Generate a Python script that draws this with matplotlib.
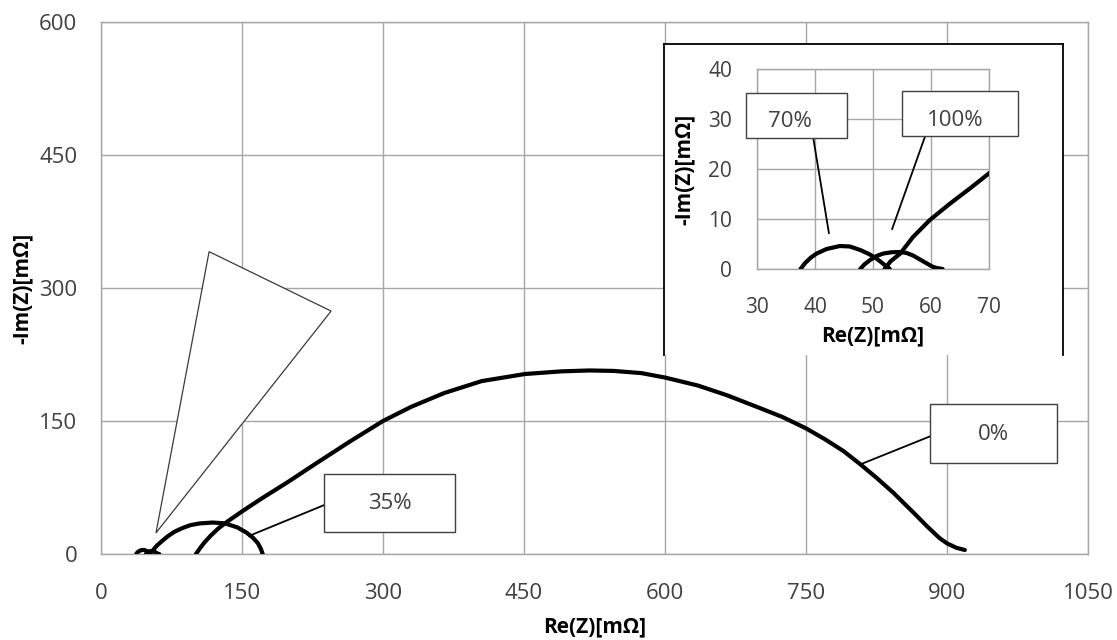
import matplotlib.pyplot as plt
from matplotlib.patches import Rectangle, Polygon

# Nyquist data, Re(Z) / -Im(Z) in mOhm
re_0 = [101, 105, 110, 117, 125, 135, 150, 170, 200, 230, 265, 300, 330, 365, 405, 451,
        490, 520, 545, 575, 600, 635, 666, 700, 725, 750, 770, 790, 808, 825, 843, 865,
        879, 892, 900, 910, 919]
im_0 = [0, 6, 13, 21, 29, 37, 48, 62, 82, 103, 127, 150, 166, 181.5, 195, 203,
        206, 207, 206.5, 204, 199, 190, 179, 165, 154.5, 141.7, 129.5, 116, 101, 86, 69, 46,
        31, 18, 12, 7, 4.5]

re_35 = [52, 53, 54.7, 56.9, 59.8, 63.3, 66.7, 70.3, 78, 86, 95, 105, 119, 132, 145,
         155, 162, 167, 170, 172]
im_35 = [0, 1.5, 3.1, 6.4, 9.8, 13.1, 16.1, 19.4, 25, 29, 32.5, 34.5, 35.5, 34.5, 30,
         24, 18, 12, 6, 0]

re_70 = [37.5, 38.3, 39.3, 40.3, 42, 44.3, 46, 47.8, 49.3, 50.6, 51.8, 52.9]
im_70 = [0, 1.2, 2.3, 3.1, 4, 4.6, 4.5, 3.8, 3, 2.1, 1, 0]

re_100 = [47.8, 48.5, 49.5, 50.6, 51.8, 53.2, 54.7, 55.8, 56.9, 58.1, 59.3, 60.2, 61, 62]
im_100 = [0, 0.9, 1.8, 2.6, 3.1, 3.35, 3.4, 3.2, 2.7, 1.9, 1.1, 0.5, 0.2, 0]

main_xticks = [0, 150, 300, 450, 600, 750, 900, 1050]
main_yticks = [0, 150, 300, 450, 600]
inset_xticks = [30, 40, 50, 60, 70]
inset_yticks = [0, 10, 20, 30, 40]

series = [(re_0, im_0), (re_35, im_35), (re_70, im_70), (re_100, im_100)]

plt.rcParams['font.family'] = ['Open Sans', 'DejaVu Sans']
grid_c = '#a6a6a6'
text_c = '#404040'
W, H = 1117, 640


def style_axes(a, size, xpad, ypad):
	a.grid(True, color=grid_c, lw=1)
	a.set_axisbelow(True)
	for s in a.spines.values():
		s.set_color(grid_c)
		s.set_linewidth(1)
	a.tick_params(length=0, labelsize=size, colors=text_c)
	a.tick_params(axis='x', pad=xpad)
	a.tick_params(axis='y', pad=ypad)


def draw_curves(a):
	for x, y in series:
		a.plot(x, y, color='black', lw=3, solid_capstyle='round',
			solid_joinstyle='round', zorder=3)


fig = plt.figure(figsize=(W / 100, H / 100), dpi=100)

# main chart
ax = fig.add_axes([101 / W, 86 / H, 987 / W, 532 / H])
draw_curves(ax)
ax.set_xlim(0, 1050)
ax.set_ylim(0, 600)
ax.set_xticks(main_xticks)
ax.set_yticks(main_yticks)
style_axes(ax, 16, 21, 17)
ax.set_xlabel('Re(Z)[mΩ]', fontsize=15, fontweight='bold', color='black')
ax.xaxis.set_label_coords(0.5, -0.118)
ax.set_ylabel('-Im(Z)[mΩ]', fontsize=15, fontweight='bold', color='black')
ax.yaxis.set_label_coords(-0.069, 0.5)

# callout wedge pointing at the small arcs
ax.add_patch(Polygon([(58.5, 23.8), (115, 341), (244.8, 274)], closed=True,
	facecolor='white', edgecolor='#3a3a3a', lw=0.9, zorder=4))

# 35% label
ax.plot([237, 157.5], [55, 20.4], color='black', lw=1.3, zorder=4)
ax.add_patch(Rectangle((237, 24.5), 139.7, 66.2, facecolor='white', edgecolor=text_c,
	lw=1, zorder=5))
ax.text(307, 57, '35%', ha='center', va='center', fontsize=16, color=text_c, zorder=6)

# 0% label
ax.plot([882, 807.7], [132.7, 101], color='black', lw=1.3, zorder=4)
ax.add_patch(Rectangle((882, 103), 135, 66, facecolor='white', edgecolor=text_c,
	lw=1, zorder=5))
ax.text(949, 135, '0%', ha='center', va='center', fontsize=16, color=text_c, zorder=6)

# inset frame (cut off at the bottom, as in the original)
frame = fig.add_axes([664 / W, (H - 355) / H, 399 / W, 311 / H])
frame.set_xticks([])
frame.set_yticks([])
frame.spines['bottom'].set_visible(False)
for s in ['left', 'top', 'right']:
	frame.spines[s].set_color('black')
	frame.spines[s].set_linewidth(1.3)

# inset zoom
ins = fig.add_axes([757 / W, (H - 269) / H, 232 / W, 200 / H])
draw_curves(ins)
ins.set_xlim(30, 70)
ins.set_ylim(0, 40)
ins.set_xticks(inset_xticks)
ins.set_yticks(inset_yticks)
style_axes(ins, 15, 20, 18)
ins.set_xlabel('Re(Z)[mΩ]', fontsize=15, fontweight='bold', color='black')
ins.xaxis.set_label_coords(0.5, -0.28)
ins.set_ylabel('-Im(Z)[mΩ]', fontsize=15, fontweight='bold', color='black')
ins.yaxis.set_label_coords(-0.267, 0.5)

# 70% label
ins.plot([39.7, 42.4], [26.2, 7.2], color='black', lw=1.3, zorder=4)
ins.add_patch(Rectangle((28.05, 26.2), 17.45, 9.0, facecolor='white', edgecolor=text_c,
	lw=1, zorder=5, clip_on=False))
ins.text(35.7, 29.5, '70%', ha='center', va='center', fontsize=16, color=text_c, zorder=6)

# 100% label
ins.plot([59, 53.3], [26.6, 8], color='black', lw=1.3, zorder=4)
ins.add_patch(Rectangle((55, 26.6), 20, 9.0, facecolor='white', edgecolor=text_c,
	lw=1, zorder=5, clip_on=False))
ins.text(64.1, 29.8, '100%', ha='center', va='center', fontsize=16, color=text_c, zorder=6)

fig.savefig('out.png', dpi=100)
